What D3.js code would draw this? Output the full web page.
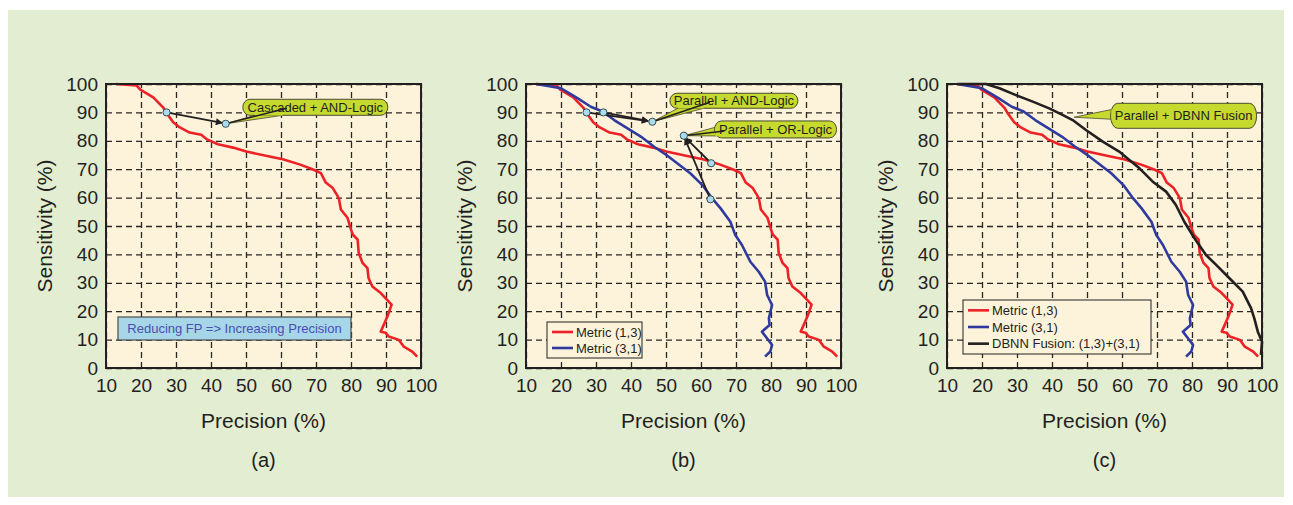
<!DOCTYPE html>
<html>
<head>
<meta charset="utf-8">
<script src="https://cdn.jsdelivr.net/npm/d3@7"></script>
<style>
  body { margin: 0; background: #fff; }
  svg { display: block; }
</style>
</head>
<body>
<div id="chart"></div>
<script>
// ---- data ----
let precisionTicks = [10, 20, 30, 40, 50, 60, 70, 80, 90, 100];
let sensitivityTicks = [0, 10, 20, 30, 40, 50, 60, 70, 80, 90, 100];
let panelLabels = ["(a)", "(b)", "(c)"];

// Metric (1,3) curve: precision / sensitivity pairs
let metric13P = [12.8, 18.7, 19.8, 23.5, 26.3, 27.2, 29.2, 31.1, 33.9, 37.2, 38.7, 42, 46.3, 50.1, 55.7,
  60.5, 65.3, 69, 71.4, 72.8, 74.7, 76.2, 76.6, 77.1, 79, 80, 80.5, 81.9, 82.2, 83.3, 84.7, 85, 86.1,
  88.5, 91.6, 90.4, 88.5, 89.9, 90.8, 93.7, 95.1, 97.5, 98.9];
let metric13S = [100, 99.5, 98, 95.3, 91.8, 90, 86.5, 84.7, 82.9, 82.1, 80.6, 78.8, 77.6, 76.2, 74.7,
  73.5, 71.7, 70, 68.6, 65.3, 63.5, 60.5, 59.3, 55.8, 52.9, 48.8, 47, 45.2, 40.5, 37, 35.2, 31.7, 28.7,
  26.4, 22.3, 18.1, 12.8, 12.4, 11.1, 9.9, 7.5, 5.8, 4];

// Metric (3,1) curve
let metric31P = [12.9, 20, 24.7, 28.5, 31.9, 35.2, 39, 42.8, 46.6, 50.1, 53.2, 57, 60.4, 63.2, 65.6,
  68.4, 69.8, 71.7, 74.1, 76.5, 78.3, 78.9, 80.3, 79.4, 79.6, 77.4, 78.9, 80.3, 79.8, 78.3];
let metric31S = [100, 98.5, 95, 92, 90.3, 87.3, 84.4, 81.5, 77.9, 75, 72.1, 68.5, 64.4, 59.7, 56.2,
  51.5, 46.8, 43.3, 37.4, 33.9, 30.4, 25.7, 22.2, 17.5, 15.1, 12.8, 10.4, 8.1, 5.8, 4];

// DBNN fusion (1,3)+(3,1) curve
let fusionP = [13.5, 21.1, 25, 29.7, 34.5, 39.2, 43, 45.9, 49.7, 54.5, 59.2, 62.1, 65, 68.8, 72.6,
  75.4, 77.8, 80.7, 84, 86.9, 90.7, 94.5, 96.9, 97.8, 98.8, 100, 99.7];
let fusionS = [100, 100, 98.5, 96.1, 93.8, 91.4, 89.1, 87.3, 83.8, 79.7, 76.2, 73.2, 70.3, 65.6, 62.1,
  57.4, 51.5, 45.7, 39.8, 36.3, 31.6, 26.9, 21, 17.5, 12.8, 9.3, 4.6];

// operating points marked on the curves
let pointsA = [[27.3, 90], [44.2, 86]];
let pointsB = [[27.3, 90], [32.1, 90], [46.1, 86.7], [55.1, 81.8], [62.9, 72.1], [62.7, 59.4]];

// svg attributes
let svgWidth = 1293;
let svgHeight = 505;
let plotW = 315;
let plotTop = 84;
let plotBottom = 368;
let fontFam = "'Liberation Sans', Arial, Helvetica, sans-serif";

let red = "#ec2227", blue = "#2e3a9e", black = "#231f20";

let series13 = { p: metric13P, s: metric13S, color: red, name: "Metric (1,3)" };
let series31 = { p: metric31P, s: metric31S, color: blue, name: "Metric (3,1)" };
let seriesFu = { p: fusionP, s: fusionS, color: black, name: "DBNN Fusion: (1,3)+(3,1)" };

let panels = [
  {
    x0: 106, label: panelLabels[0], series: [series13], points: pointsA,
    arrows: [[pointsA[0], [43.2, 86.3]]],
    callouts: [{ text: "Cascaded + AND-Logic", cx: 69.8, cy: 91.8, w: 145, h: 16,
      target: pointsA[1], base: [[12, 16], [40, 16]], link: [44, 9] }],
    note: "Reducing FP => Increasing Precision",
    legend: null
  },
  {
    x0: 526, label: panelLabels[1], series: [series13, series31], points: pointsB,
    arrows: [[pointsB[0], [44.9, 86.9]], [pointsB[1], [44.9, 87.0]],
             [pointsB[4], [55.6, 81.0]], [pointsB[5], [55.4, 80.8]]],
    callouts: [
      { text: "Parallel + AND-Logic", cx: 69.4, cy: 94.1, w: 128, h: 15,
        target: pointsB[2], base: [[8, 15], [34, 15]], link: [40, 9] },
      { text: "Parallel + OR-Logic", cx: 81.3, cy: 84, w: 122, h: 17,
        target: pointsB[3], base: [[2, 6], [2, 15]], link: [10, 10] }
    ],
    note: null,
    legend: { x: 21, y: 238, w: 95, h: 36, rows: 2 }
  },
  {
    x0: 947, label: panelLabels[2], series: [series13, series31, seriesFu], points: [],
    arrows: [],
    callouts: [{ text: "Parallel + DBNN Fusion", cx: 77.6, cy: 88.8, w: 146, h: 25,
      target: [46.3, 88.3], base: [[2, 6], [2, 16]], link: null }],
    note: null,
    legend: { x: 16, y: 216, w: 188, h: 54, rows: 3 }
  }
];

let svg = d3.select("#chart")
  .append("svg")
  .attr("width", svgWidth)
  .attr("height", svgHeight);

svg.append("rect")
  .attr("x", 8).attr("y", 10)
  .attr("width", 1276).attr("height", 487)
  .attr("fill", "#e3edd1");

svg.append("defs").append("marker")
  .attr("id", "arrow")
  .attr("viewBox", "0 0 10 10")
  .attr("refX", 9).attr("refY", 5)
  .attr("markerWidth", 9).attr("markerHeight", 7)
  .attr("markerUnits", "userSpaceOnUse")
  .attr("orient", "auto")
  .append("path")
  .attr("d", "M0,0 L10,5 L0,10 z")
  .attr("fill", black);

panels.forEach(drawPanel);

function drawPanel(cfg) {
  let x = d3.scaleLinear().domain([10, 100]).range([cfg.x0, cfg.x0 + plotW]);
  let y = d3.scaleLinear().domain([0, 100]).range([plotBottom, plotTop]);
  let g = svg.append("g");

  g.append("rect")
    .attr("x", x(10)).attr("y", y(100))
    .attr("width", plotW).attr("height", plotBottom - plotTop)
    .attr("fill", "#fdf3da");

  // axes carry the dashed grid
  let xAxis = g.append("g")
    .attr("transform", `translate(0,${plotBottom})`)
    .call(d3.axisBottom(x).tickValues(precisionTicks).tickSize(-(plotBottom - plotTop)).tickPadding(11));
  let yAxis = g.append("g")
    .attr("transform", `translate(${cfg.x0},0)`)
    .call(d3.axisLeft(y).tickValues(sensitivityTicks).tickSize(-plotW).tickPadding(8));

  [xAxis, yAxis].forEach(a => {
    a.select(".domain").remove();
    a.attr("font-size", 19).attr("font-family", fontFam).attr("color", black);
    a.selectAll("line")
      .attr("stroke", "#2a2624")
      .attr("stroke-width", 1.3)
      .attr("stroke-dasharray", "6,4");
  });

  // curves
  let line = d3.line()
    .x(d => x(d[0]))
    .y(d => y(d[1]));

  g.selectAll("path.curve")
    .data(cfg.series)
    .enter()
    .append("path")
    .attr("class", "curve")
    .attr("d", d => line(d.p.map((v, i) => [v, d.s[i]])))
    .attr("fill", "none")
    .attr("stroke", d => d.color)
    .attr("stroke-width", 2.6)
    .attr("stroke-linejoin", "round");

  // plot frame
  g.append("rect")
    .attr("x", x(10)).attr("y", y(100))
    .attr("width", plotW).attr("height", plotBottom - plotTop)
    .attr("fill", "none")
    .attr("stroke", black)
    .attr("stroke-width", 2);

  // callouts (tail wedge, bubble, text)
  cfg.callouts.forEach(c => {
    let bx = x(c.cx) - c.w / 2, by = y(c.cy) - c.h / 2;
    let tx = x(c.target[0]), ty = y(c.target[1]);
    let tail = [[bx + c.base[0][0], by + c.base[0][1]], [tx, ty], [bx + c.base[1][0], by + c.base[1][1]]];
    g.append("path")
      .attr("d", d3.line()(tail))
      .attr("fill", "#c6d92e")
      .attr("stroke", "#4a4a30")
      .attr("stroke-width", 0.8);
    g.append("rect")
      .attr("x", bx).attr("y", by)
      .attr("width", c.w).attr("height", c.h)
      .attr("rx", 7).attr("ry", c.h / 2)
      .attr("fill", "#c6d92e")
      .attr("stroke", "#4a4a30")
      .attr("stroke-width", 1);
    // cover the seam between tail and bubble
    g.append("path")
      .attr("d", d3.line()([[bx + c.base[0][0], by + c.base[0][1] - (c.base[0][1] === c.h ? 1 : 0)],
                            [bx + c.base[1][0], by + c.base[1][1] - (c.base[1][1] === c.h ? 1 : 0)]]))
      .attr("stroke", "#c6d92e")
      .attr("stroke-width", 2.5);
    if (c.link) {
      g.append("line")
        .attr("x1", tx).attr("y1", ty)
        .attr("x2", bx + c.link[0]).attr("y2", by + c.link[1])
        .attr("stroke", black).attr("stroke-width", 1.5);
    }
    g.append("text")
      .attr("x", bx + c.w / 2).attr("y", by + c.h / 2)
      .attr("dy", "0.36em")
      .attr("text-anchor", "middle")
      .attr("font-family", fontFam)
      .attr("font-size", 13)
      .attr("fill", black)
      .text(c.text);
  });

  // arrows
  g.selectAll("line.arrow")
    .data(cfg.arrows)
    .enter()
    .append("line")
    .attr("class", "arrow")
    .attr("x1", d => x(d[0][0])).attr("y1", d => y(d[0][1]))
    .attr("x2", d => x(d[1][0])).attr("y2", d => y(d[1][1]))
    .attr("stroke", black)
    .attr("stroke-width", 1.8)
    .attr("marker-end", "url(#arrow)");

  // operating point markers
  g.selectAll("circle.pt")
    .data(cfg.points)
    .enter()
    .append("circle")
    .attr("class", "pt")
    .attr("cx", d => x(d[0])).attr("cy", d => y(d[1]))
    .attr("r", 3.6)
    .attr("fill", "#a8dcef")
    .attr("stroke", "#3a4a50")
    .attr("stroke-width", 1);

  // note box in panel (a)
  if (cfg.note) {
    g.append("rect")
      .attr("x", cfg.x0 + 12).attr("y", 317)
      .attr("width", 233).attr("height", 23)
      .attr("fill", "#a6d6e8")
      .attr("stroke", "#4b4b4b")
      .attr("stroke-width", 1.2);
    g.append("text")
      .attr("x", cfg.x0 + 12 + 233 / 2).attr("y", 328.5)
      .attr("dy", "0.36em")
      .attr("text-anchor", "middle")
      .attr("font-family", fontFam)
      .attr("font-size", 13)
      .attr("fill", "#4a4fb0")
      .text(cfg.note);
  }

  // legend
  if (cfg.legend) {
    let L = cfg.legend;
    let lg = g.append("g").attr("transform", `translate(${cfg.x0 + L.x},${plotTop + L.y})`);
    lg.append("rect")
      .attr("width", L.w).attr("height", L.h)
      .attr("fill", "#fdf3da")
      .attr("stroke", black)
      .attr("stroke-width", 1);
    let rowH = (L.h - 4) / L.rows;
    let rows = lg.selectAll("g.row")
      .data(cfg.series)
      .enter()
      .append("g")
      .attr("class", "row")
      .attr("transform", (d, i) => `translate(0,${2 + rowH * (i + 0.5)})`);
    rows.append("line")
      .attr("x1", 5).attr("x2", 26)
      .attr("stroke", d => d.color)
      .attr("stroke-width", 2.6);
    rows.append("text")
      .attr("x", 29)
      .attr("dy", "0.36em")
      .attr("font-family", fontFam)
      .attr("font-size", 13)
      .attr("fill", black)
      .text(d => d.name);
  }

  // axis titles and panel label
  g.append("text")
    .attr("x", cfg.x0 + plotW / 2).attr("y", 428)
    .attr("text-anchor", "middle")
    .attr("font-family", fontFam)
    .attr("font-size", 21)
    .attr("fill", black)
    .text("Precision (%)");
  g.append("text")
    .attr("transform", `translate(${cfg.x0 - 54},${(plotTop + plotBottom) / 2}) rotate(-90)`)
    .attr("text-anchor", "middle")
    .attr("font-family", fontFam)
    .attr("font-size", 21)
    .attr("fill", black)
    .text("Sensitivity (%)");
  g.append("text")
    .attr("x", cfg.x0 + plotW / 2).attr("y", 467)
    .attr("text-anchor", "middle")
    .attr("font-family", fontFam)
    .attr("font-size", 20)
    .attr("fill", black)
    .text(cfg.label);
}
</script>
</body>
</html>
